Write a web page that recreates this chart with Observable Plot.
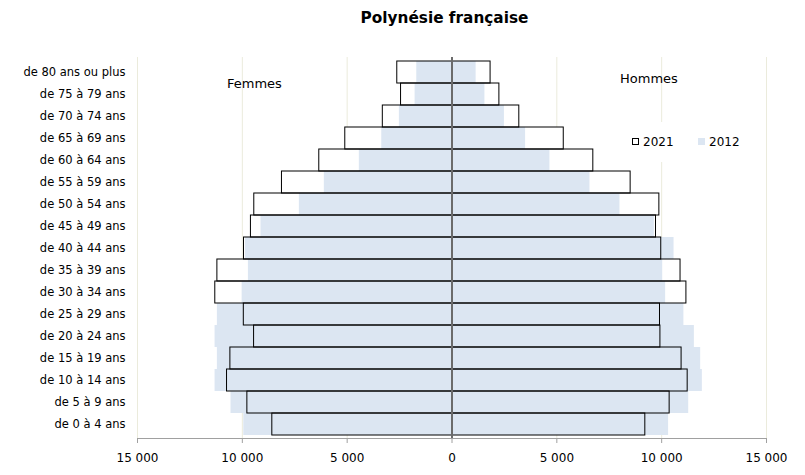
<!DOCTYPE html>
<html>
<head>
<meta charset="utf-8">
<script src="https://cdn.jsdelivr.net/npm/d3@7"></script>
<script src="https://cdn.jsdelivr.net/npm/@observablehq/plot@0.6"></script>
<style>
  html, body { margin: 0; padding: 0; background: #fff; }
  #wrap { position: relative; width: 805px; height: 475px; font-family: "DejaVu Sans", Verdana, sans-serif; color: #000; }
  #title { height: 36px; line-height: 36px; text-align: center; font-weight: bold; font-size: 15.3px; padding-left: 84px; box-sizing: border-box; }
  #chart { height: 439px; }
  #chart svg { display: block; }
  .lab { position: absolute; font-size: 13px; line-height: 14px; white-space: nowrap; }
  .leg { font-size: 12px; }
  #legend { position: absolute; left: 626px; top: 122px; width: 120px; height: 40px; background: #fff; }
  .sw { position: absolute; width: 7px; height: 7px; box-sizing: border-box; }
</style>
</head>
<body>
<div id="wrap">
  <div id="title">Polynésie française</div>
  <div id="chart"></div>
  <div class="lab" style="left:227px; top:77px;">Femmes</div>
  <div class="lab" style="left:620px; top:72px;">Hommes</div>
  <div id="legend">
    <div class="sw" style="left:6px; top:16px; border:1px solid #000; background:#fff;"></div>
    <div class="lab leg" style="left:17px; top:13px;">2021</div>
    <div class="sw" style="left:72px; top:16px; background:#dce6f2;"></div>
    <div class="lab leg" style="left:83px; top:13px;">2012</div>
  </div>
</div>
<script>
const ages = ["de 0 à 4 ans","de 5 à 9 ans","de 10 à 14 ans","de 15 à 19 ans","de 20 à 24 ans","de 25 à 29 ans","de 30 à 34 ans","de 35 à 39 ans","de 40 à 44 ans","de 45 à 49 ans","de 50 à 54 ans","de 55 à 59 ans","de 60 à 64 ans","de 65 à 69 ans","de 70 à 74 ans","de 75 à 79 ans","de 80 ans ou plus"];
const femmes2021 = [8570, 9760, 10730, 10570, 9440, 9930, 11290, 11190, 9920, 9590, 9430, 8110, 6330, 5090, 3300, 2430, 2610];
const femmes2012 = [9930, 10540, 11300, 11190, 11300, 11190, 10010, 9710, 9850, 9110, 7280, 6090, 4420, 3350, 2510, 1760, 1680];
const hommes2021 = [9220, 10380, 11240, 10950, 9940, 9920, 11180, 10900, 9980, 9730, 9890, 8520, 6740, 5330, 3210, 2260, 1840];
const hommes2012 = [10330, 11290, 11940, 11860, 11560, 11060, 10190, 10050, 10590, 9650, 8010, 6580, 4670, 3510, 2500, 1570, 1150];
const xTicks = [-15000, -10000, -5000, 0, 5000, 10000, 15000];
const gridTicks = [-15000, -10000, -5000, 5000, 10000, 15000];

const rows = (vals, sign) => ages.map((a, i) => ({age: a, v: sign * vals[i]}));
const d2021 = [...rows(femmes2021, -1), ...rows(hommes2021, 1)];
const d2012 = [...rows(femmes2012, -1), ...rows(hommes2012, 1)];

const fmt = d3.formatLocale({decimal: ",", thousands: " ", grouping: [3], currency: ["", " €"]}).format(",");

const chart = Plot.plot({
  width: 805,
  height: 439,
  marginTop: 21,
  marginBottom: 37,
  marginLeft: 137,
  marginRight: 39,
  style: {fontFamily: "DejaVu Sans, Verdana, sans-serif", color: "#000", background: "#fff"},
  x: {domain: [-15000, 15000]},
  y: {domain: ages.slice().reverse(), padding: 0},
  marks: [
    Plot.ruleX(gridTicks, {stroke: "#ebebdc", strokeWidth: 1}),
    Plot.barX(d2021, {y: "age", x1: 0, x2: "v", fill: "#fff"}),
    Plot.barX(d2012, {y: "age", x1: 0, x2: "v", fill: "#dce6f2"}),
    Plot.barX(d2021, {y: "age", x1: 0, x2: "v", fill: "none", stroke: "#000", strokeWidth: 1}),
    Plot.ruleX([0], {stroke: "#6b6b6b", strokeWidth: 2}),
    Plot.frame({anchor: "bottom", stroke: "#a0a0a0"}),
    Plot.axisX({ticks: xTicks, tickSize: 5, tickPadding: 10, stroke: "#a0a0a0", fontSize: 12, tickFormat: d => fmt(Math.abs(d)), label: null}),
    Plot.axisY({tickSize: 0, tickPadding: 12, fontSize: 11.5, label: null})
  ]
});
document.getElementById("chart").appendChild(chart);
</script>
</body>
</html>
